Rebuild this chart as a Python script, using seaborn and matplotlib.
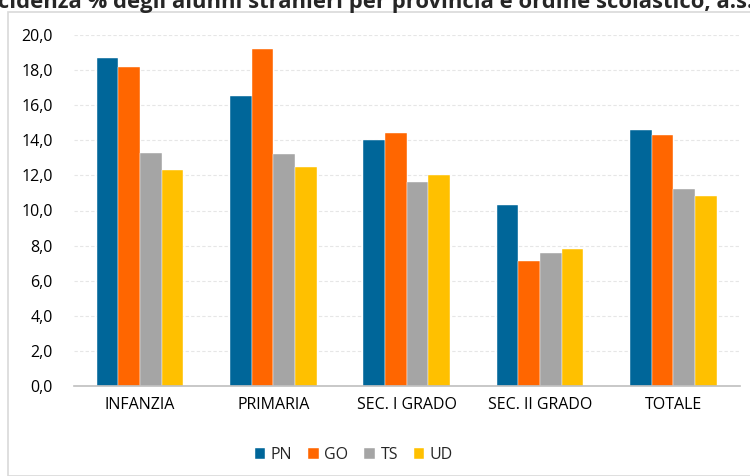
import matplotlib
matplotlib.use("Agg")
import matplotlib.pyplot as plt
import seaborn as sns
import pandas as pd
from matplotlib.patches import Rectangle
from matplotlib.ticker import FuncFormatter, MultipleLocator

categories = ["INFANZIA", "PRIMARIA", "SEC. I GRADO", "SEC. II GRADO", "TOTALE"]
series_names = ["PN", "GO", "TS", "UD"]
pn = [18.7, 16.5, 14.0, 10.3, 14.6]
go = [18.2, 19.2, 14.4, 7.1, 14.3]
ts = [13.3, 13.2, 11.6, 7.6, 11.2]
ud = [12.3, 12.5, 12.0, 7.8, 10.8]
colors = ["#006699", "#FF6600", "#A5A5A5", "#FFC000"]
title = "Incidenza % degli alunni stranieri per provincia e ordine scolastico, a.s. 2019/20"

rows = []
for name, vals in zip(series_names, [pn, go, ts, ud]):
    for c, v in zip(categories, vals):
        rows.append({"cat": c, "serie": name, "val": v})
df = pd.DataFrame(rows)

sns.set_theme(style="white")
plt.rcParams["font.family"] = ["Open Sans", "DejaVu Sans"]

fig = plt.figure(figsize=(7.5, 4.76), dpi=100)
fig.patches.append(Rectangle((8 / 750, 0), 1, 1 - 12 / 476, transform=fig.transFigure,
                             fill=False, edgecolor="#D9D9D9", linewidth=1.2))
ax = fig.add_axes([73.5 / 750, 1 - 386 / 476, (740 - 73.5) / 750, (386 - 35) / 476])

sns.barplot(data=df, x="cat", y="val", hue="serie", palette=colors, width=0.65,
            gap=0, ax=ax, saturation=1, edgecolor="white", linewidth=0.3)

ax.set_ylim(0, 20)
ax.yaxis.set_major_locator(MultipleLocator(2))
ax.yaxis.set_major_formatter(FuncFormatter(lambda v, p: f"{v:.1f}".replace(".", ",")))
ax.grid(axis="y", color="#E6E6E6", linestyle=(0, (3, 2)), linewidth=0.8)
ax.set_axisbelow(True)
for s in ["top", "right", "left"]:
    ax.spines[s].set_visible(False)
ax.spines["bottom"].set_color("#BFBFBF")
ax.spines["bottom"].set_linewidth(1.2)
ax.set_xlabel("")
ax.set_ylabel("")
ax.tick_params(axis="both", length=0, labelsize=11.5, colors="#000000", pad=8)
ax.tick_params(axis="y", pad=15)
ax.set_xlim(-0.5, 4.5)

handles, labels = ax.get_legend_handles_labels()
ax.legend(handles, labels, loc="center", bbox_to_anchor=(354 / 750, 1 - 455 / 476),
          bbox_transform=fig.transFigure, ncol=4, frameon=False, fontsize=11.5,
          handlelength=0.65, handleheight=0.65, handletextpad=0.35, columnspacing=1.0)

fig.text(-0.032, 1 - 8 / 476, title, fontsize=15.8, fontweight="bold", ha="left", va="baseline")

fig.savefig("out.png", dpi=100)
